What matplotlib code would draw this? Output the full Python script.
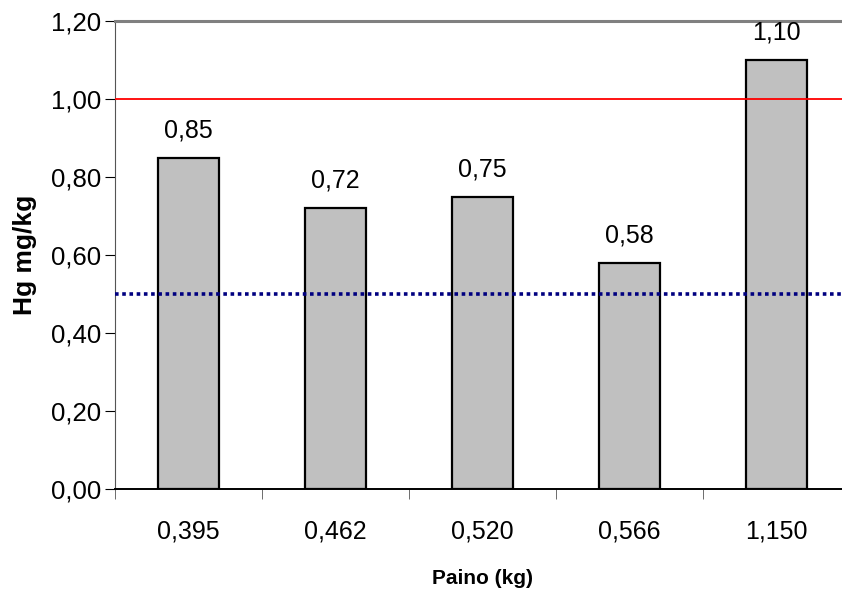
import numpy as np
import matplotlib.pyplot as plt

plt.rcParams['font.family'] = ['Liberation Sans', 'DejaVu Sans']

weights = ["0,395", "0,462", "0,520", "0,566", "1,150"]
hg = [0.85, 0.72, 0.75, 0.58, 1.10]
limit_red = 1.0
limit_blue = 0.5
yticks = [0.0, 0.2, 0.4, 0.6, 0.8, 1.0, 1.2]

fig = plt.figure(figsize=(8.42, 5.90), dpi=100)
W, H = 842, 590
left, right, top, bottom = 115, 850, 21, 489
ax = fig.add_axes([left / W, 1 - bottom / H, (right - left) / W, (bottom - top) / H])

x = np.arange(len(hg))
ax.bar(x, hg, width=0.41, color="#c0c0c0", edgecolor="black", linewidth=1.6, zorder=2)
ax.axhline(limit_red, color="red", linewidth=1.3, zorder=3)
ax.axhline(limit_blue, color="#000080", linewidth=2.6, linestyle=(0, (1, 1)), zorder=3)

for xi, v in zip(x, hg):
    ax.annotate(f"{v:.2f}".replace(".", ","), (xi, v), xytext=(0, 11), textcoords="offset points",
                ha="center", va="bottom", fontsize=18)

ax.set_xlim(-0.5, len(hg) - 0.5)
ax.set_ylim(0, 1.2)
ax.set_yticks(yticks)
ax.set_yticklabels([f"{t:.2f}".replace(".", ",") for t in yticks], fontsize=18.5)
ax.set_xticks(x)
ax.set_xticklabels(weights, fontsize=18)
ax.tick_params(axis="x", length=0, pad=22)
ax.set_xticks(np.arange(len(hg) + 1) - 0.5, minor=True)
ax.tick_params(axis="x", which="minor", length=7, direction="out", color="#555555")
ax.tick_params(axis="y", length=7, direction="out", pad=3)

ax.spines["right"].set_visible(False)
ax.spines["top"].set_color("#808080")
ax.spines["top"].set_linewidth(2.2)
ax.spines["left"].set_color("#555555")
ax.spines["bottom"].set_color("black")
ax.spines["bottom"].set_linewidth(1.4)

ax.set_xlabel("Paino (kg)", fontsize=15, fontweight="bold", labelpad=18)
ax.set_ylabel("Hg mg/kg", fontsize=19, fontweight="bold", labelpad=10)

fig.savefig("out.png", dpi=100)
